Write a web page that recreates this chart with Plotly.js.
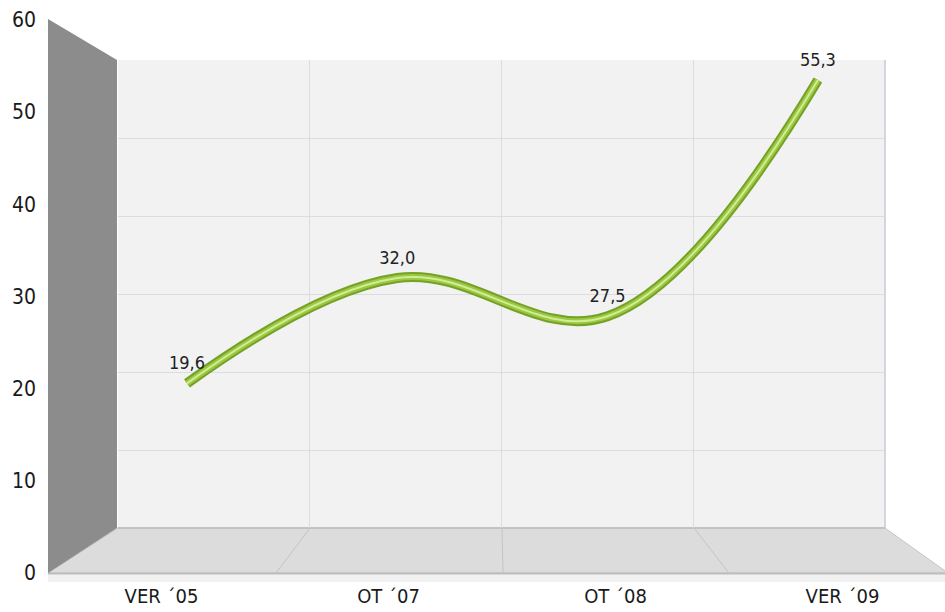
<!DOCTYPE html>
<html>
<head>
<meta charset="utf-8">
<script src="https://cdn.plot.ly/plotly-3.0.1.min.js"></script>
<style>html,body{margin:0;padding:0;background:#fff;}#chart{width:945px;height:612px;}</style>
</head>
<body>
<div id="chart"></div>
<script>
// ---- data ----
const categories = ["VER \u00b405", "OT \u00b407", "OT \u00b408", "VER \u00b409"];
const values = [19.6, 32.0, 27.5, 55.3];
const valueLabels = ["19,6", "32,0", "27,5", "55,3"];
const yTicks = [0, 10, 20, 30, 40, 50, 60];

// ---- geometry helpers (pixel -> paper) ----
const W = 945, H = 612, L = 37;
const PW = W - L;
const px = x => (x - L) / PW;
const py = y => (H - y) / H;

const font = "DejaVu Sans Condensed, DejaVu Sans, sans-serif";

const ribbon = (w, c) => ({
  x: categories, y: values, xaxis: "x2", yaxis: "y2",
  type: "scatter", mode: "lines",
  line: {shape: "spline", smoothing: 1.1, width: w, color: c},
  hoverinfo: "skip", showlegend: false
});

const traces = [
  // invisible trace on the back-wall grid axes
  {x: [0.5, 1.5, 2.5, 3.5], y: values, xaxis: "x", yaxis: "y", type: "scatter", mode: "markers",
   marker: {opacity: 0}, hoverinfo: "skip", showlegend: false},
  ribbon(10, "#74a226"),
  ribbon(6, "#9bc744"),
  ribbon(2, "#d3ec92"),
  {x: categories, y: values, xaxis: "x2", yaxis: "y2", type: "scatter", mode: "markers+text",
   marker: {size: 14, opacity: 0},
   text: valueLabels, textposition: "top center",
   textfont: {family: font, size: 18, color: "#222"},
   hoverinfo: "skip", showlegend: false},
  // invisible trace carrying the front axes (tick labels)
  {x: categories, y: values, xaxis: "x3", yaxis: "y3", type: "scatter", mode: "markers",
   marker: {opacity: 0}, hoverinfo: "skip", showlegend: false}
];

// line axes (mid depth): idx i -> 187 + 210.3 i px ; value v -> 550 - 8.5 v px
const xr0 = -(187 - L) / 210.3;
const xr1 = xr0 + PW / 210.3;
const y2r0 = -(H - 550) / 8.5;
const y2r1 = y2r0 + H / 8.5;
// front axes: idx i -> 161.5 + 227 i ; value v -> 573 - 9.22 v
const x3r0 = -(161.5 - L) / 227;
const x3r1 = x3r0 + PW / 227;
const y3r0 = -(H - 573) / 9.22;
const y3r1 = y3r0 + H / 9.22;

const floorLine = (xb, xf) => ({type: "line", xref: "paper", yref: "paper", layer: "below",
  x0: px(xb), y0: py(528), x1: px(xf), y1: py(573), line: {color: "#c4c4c4", width: 1}});

const layout = {
  width: W, height: H,
  margin: {l: L, r: 0, t: 0, b: 0},
  paper_bgcolor: "#ffffff",
  plot_bgcolor: "rgba(0,0,0,0)",
  showlegend: false,
  // back-wall grid
  xaxis: {range: [0, 4], domain: [px(118), px(885)], anchor: "y", dtick: 1, tick0: 0,
          showgrid: true, gridcolor: "#dcdcdc", gridwidth: 1, zeroline: false,
          showticklabels: false, showline: false, ticks: "", fixedrange: true},
  yaxis: {range: [0, 60], domain: [py(528), py(60)], anchor: "x", dtick: 10,
          showgrid: true, gridcolor: "#dcdcdc", gridwidth: 1, zeroline: false,
          showticklabels: false, showline: false, ticks: "", fixedrange: true},
  // line axes
  xaxis2: {type: "category", range: [xr0, xr1], domain: [0, 1], anchor: "y2",
           showgrid: false, zeroline: false, showticklabels: false, showline: false, fixedrange: true},
  yaxis2: {range: [y2r0, y2r1], domain: [0, 1], anchor: "x2",
           showgrid: false, zeroline: false, showticklabels: false, showline: false, fixedrange: true},
  // front label axes
  xaxis3: {type: "category", range: [x3r0, x3r1], anchor: "free", position: py(582),
           overlaying: "x2", side: "bottom",
           showgrid: false, zeroline: false, showline: false, ticks: "",
           tickfont: {family: font, size: 20, color: "#1a1a1a"}, fixedrange: true},
  yaxis3: {range: [y3r0, y3r1], anchor: "x3", overlaying: "y2", side: "left",
           tickvals: yTicks, showgrid: false, zeroline: false, showline: false, ticks: "",
           tickfont: {family: font, size: 21, color: "#1a1a1a"}, fixedrange: true},
  shapes: [
    // back wall
    {type: "rect", xref: "paper", yref: "paper", layer: "below",
     x0: px(118), x1: px(885), y0: py(528), y1: py(60),
     fillcolor: "#f2f2f2", line: {width: 0}},
    {type: "line", xref: "paper", yref: "paper", layer: "below",
     x0: px(885), x1: px(885), y0: py(528), y1: py(60), line: {color: "#c9c9d6", width: 1.5}},
    // shadow band under floor
    {type: "rect", xref: "paper", yref: "paper", layer: "below",
     x0: px(48), x1: px(945), y0: py(582), y1: py(573),
     fillcolor: "#f1f1f1", line: {width: 0}},
    // floor
    {type: "path", xref: "paper", yref: "paper", layer: "below",
     path: `M ${px(118)} ${py(528)} L ${px(885)} ${py(528)} L ${px(948)} ${py(573)} L ${px(48)} ${py(573)} Z`,
     fillcolor: "#dcdcdc", line: {color: "#c6c6c6", width: 1}},
    {type: "line", xref: "paper", yref: "paper", layer: "below",
     x0: px(48), x1: px(948), y0: py(573.5), y1: py(573.5), line: {color: "#bdbdbd", width: 2}},
    {type: "line", xref: "paper", yref: "paper", layer: "below",
     x0: px(118), x1: px(885), y0: py(528), y1: py(528), line: {color: "#c2c2c2", width: 2}},
    floorLine(310, 276),
    floorLine(502, 503),
    floorLine(694, 729),
    // left side wall
    {type: "path", xref: "paper", yref: "paper", layer: "below",
     path: `M ${px(48)} ${py(19)} L ${px(117)} ${py(60)} L ${px(117)} ${py(528)} L ${px(48)} ${py(573)} Z`,
     fillcolor: "#8c8c8c", line: {width: 0}}
  ]
};

Plotly.newPlot("chart", traces, layout, {displayModeBar: false, staticPlot: true});
</script>
</body>
</html>
